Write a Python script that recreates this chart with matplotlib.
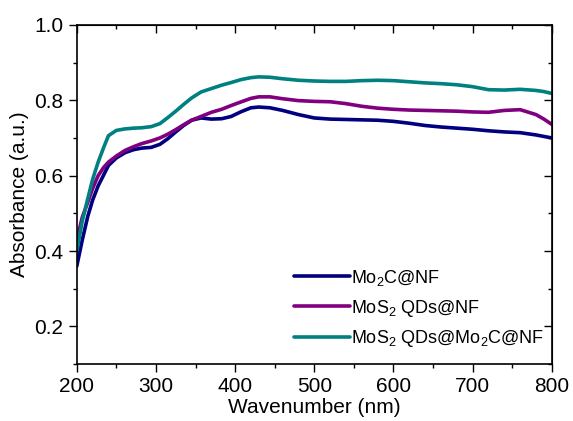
import matplotlib
matplotlib.use('Agg')
import matplotlib.pyplot as plt
from matplotlib.ticker import MultipleLocator

plt.rcParams['font.family'] = ['Liberation Sans', 'DejaVu Sans']
plt.rcParams['mathtext.fontset'] = 'custom'
plt.rcParams['mathtext.rm'] = 'Liberation Sans'
plt.rcParams['mathtext.it'] = 'Liberation Sans:italic'

# wavelength (nm)
wl = [200, 207, 214, 220, 227, 234, 240, 250, 261, 272, 282, 294, 305, 315, 325,
      335, 345, 357, 370, 383, 395, 408, 420, 430, 444, 460, 480, 500, 520, 540,
      560, 580, 600, 620, 640, 660, 680, 700, 720, 740, 760, 780, 790, 800]

mo2c = [0.360, 0.430, 0.493, 0.535, 0.573, 0.602, 0.627, 0.647, 0.661, 0.669, 0.673,
        0.675, 0.683, 0.698, 0.716, 0.733, 0.747, 0.753, 0.750, 0.751, 0.757, 0.770,
        0.780, 0.782, 0.780, 0.773, 0.762, 0.753, 0.750, 0.749, 0.748, 0.747, 0.744,
        0.739, 0.733, 0.729, 0.726, 0.723, 0.719, 0.716, 0.714, 0.708, 0.704, 0.700]
mos2 = [0.430, 0.490, 0.530, 0.566, 0.600, 0.622, 0.636, 0.652, 0.667, 0.677, 0.685,
        0.692, 0.700, 0.710, 0.722, 0.735, 0.747, 0.757, 0.768, 0.776, 0.786, 0.796,
        0.805, 0.809, 0.809, 0.804, 0.799, 0.797, 0.796, 0.791, 0.784, 0.779, 0.776,
        0.774, 0.773, 0.772, 0.771, 0.769, 0.768, 0.773, 0.775, 0.762, 0.750, 0.736]
mos2_mo2c = [0.400, 0.480, 0.540, 0.590, 0.636, 0.675, 0.706, 0.720, 0.724, 0.726, 0.727,
             0.730, 0.738, 0.754, 0.771, 0.789, 0.806, 0.822, 0.831, 0.840, 0.847, 0.855,
             0.860, 0.862, 0.861, 0.857, 0.853, 0.851, 0.850, 0.850, 0.852, 0.853, 0.852,
             0.849, 0.846, 0.844, 0.841, 0.836, 0.828, 0.827, 0.829, 0.826, 0.823, 0.818]

labels = [r'Mo$_\mathregular{2}$C@NF',
          r'MoS$_\mathregular{2}$ QDs@NF',
          r'MoS$_\mathregular{2}$ QDs@Mo$_\mathregular{2}$C@NF']
colors = ['#000080', '#800080', '#008080']

fig = plt.figure(figsize=(5.73, 4.21), dpi=100)
ax = fig.add_axes([0.134, 0.135, 0.829, 0.806])

for y, lab, c in zip([mo2c, mos2, mos2_mo2c], labels, colors):
    ax.plot(wl, y, color=c, lw=2.6, label=lab, solid_capstyle='round',
            solid_joinstyle='round')

ax.set_xlim(200, 800)
ax.set_ylim(0.1, 1.0)
ax.xaxis.set_major_locator(MultipleLocator(100))
ax.xaxis.set_minor_locator(MultipleLocator(50))
ax.yaxis.set_major_locator(MultipleLocator(0.2))
ax.yaxis.set_minor_locator(MultipleLocator(0.1))
ax.tick_params(which='both', direction='out', top=False, right=False, labelsize=15, width=1)
ax.tick_params(which='major', length=6)
ax.tick_params(which='minor', length=3)
# mirrored ticks pointing inward on top/right
axt = ax.secondary_xaxis('top')
axt.xaxis.set_major_locator(MultipleLocator(100))
axt.xaxis.set_minor_locator(MultipleLocator(50))
axt.tick_params(which='both', direction='in', labeltop=False, width=1)
axt.tick_params(which='major', length=6)
axt.tick_params(which='minor', length=3)
axr = ax.secondary_yaxis('right')
axr.yaxis.set_major_locator(MultipleLocator(0.2))
axr.yaxis.set_minor_locator(MultipleLocator(0.1))
axr.tick_params(which='both', direction='in', labelright=False, width=1)
axr.tick_params(which='major', length=6)
axr.tick_params(which='minor', length=3)
for s in ax.spines.values():
    s.set_linewidth(1.2)

ax.set_xlabel('Wavenumber (nm)', fontsize=15, labelpad=1)
ax.set_ylabel('Absorbance (a.u.)', fontsize=15, labelpad=4)

ax.legend(loc='lower right', bbox_to_anchor=(1.0, 0.022), frameon=False, fontsize=13,
          handlelength=3.1, handletextpad=0.1, labelspacing=0.55, borderaxespad=0)

fig.savefig('out.png', dpi=100)
